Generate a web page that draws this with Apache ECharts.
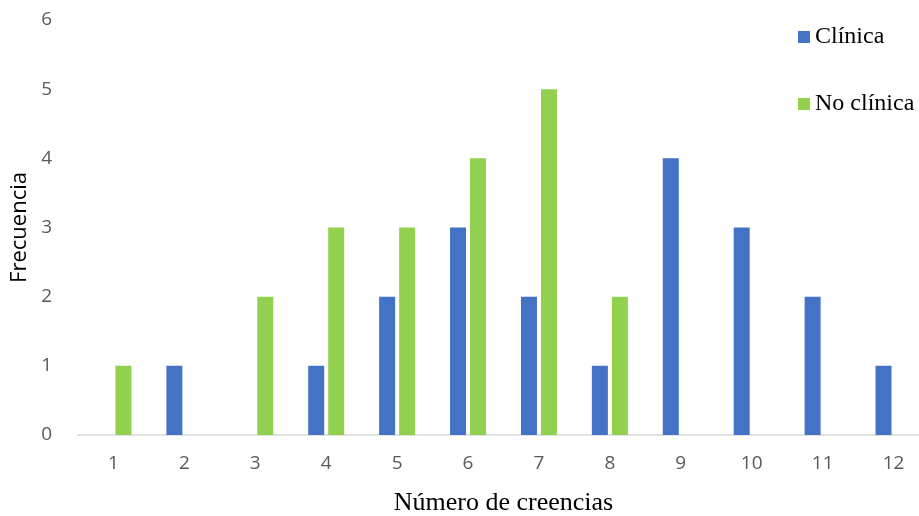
<!DOCTYPE html>
<html><head><meta charset="utf-8">
<script src="https://cdn.jsdelivr.net/npm/echarts@6/dist/echarts.min.js"></script>
<style>html,body{margin:0;padding:0;background:#fff}#c{width:919px;height:516px}</style>
</head><body><div id="c"></div>
<script>
const categories = ['1','2','3','4','5','6','7','8','9','10','11','12'];
const clinica = [0,1,0,1,2,3,2,1,4,3,2,1];
const noClinica = [1,0,2,3,3,4,5,2,0,0,0,0];
const yTicks = [0,1,2,3,4,5,6];

const chart = echarts.init(document.getElementById('c'), null, {renderer:'canvas'});
chart.setOption({
  animation:false,
  backgroundColor:'#fff',
  grid:{left:78, right:-10, top:20, bottom:81, outerBoundsMode:'none', containLabel:false},
  legend:{
    orient:'vertical', left:793, top:20,
    itemWidth:12, itemHeight:12, itemGap:43,
    icon:'rect',
    textStyle:{fontFamily:'Liberation Serif', fontSize:24, color:'#000', lineHeight:24},
    data:['Clínica','No clínica']
  },
  xAxis:{
    type:'category', data:categories,
    axisLine:{lineStyle:{color:'#d9d9d9', width:1.5}},
    axisTick:{show:false},
    axisLabel:{fontFamily:'Open Sans', fontSize:19, color:'#595959', margin:19},
    name:'Número de creencias', nameLocation:'middle', nameGap:55,
    nameTextStyle:{fontFamily:'Liberation Serif', fontSize:26, color:'#000'}
  },
  yAxis:{
    type:'value', min:0, max:6, interval:1,
    splitLine:{show:false},
    axisLine:{show:false}, axisTick:{show:false},
    axisLabel:{fontFamily:'Open Sans', fontSize:19, color:'#595959', margin:26,
      formatter:v=>yTicks.includes(v)?String(v):''},
    name:'Frecuencia', nameLocation:'middle', nameGap:42,
    nameTextStyle:{fontFamily:'Open Sans', fontSize:22, color:'#000'}
  },
  series:[
    {name:'Clínica', type:'bar', data:clinica, barWidth:16, barGap:'25%', itemStyle:{color:'#4472C4'}},
    {name:'No clínica', type:'bar', data:noClinica, barWidth:16, barGap:'25%', itemStyle:{color:'#92D050'}}
  ]
});
</script></body></html>
